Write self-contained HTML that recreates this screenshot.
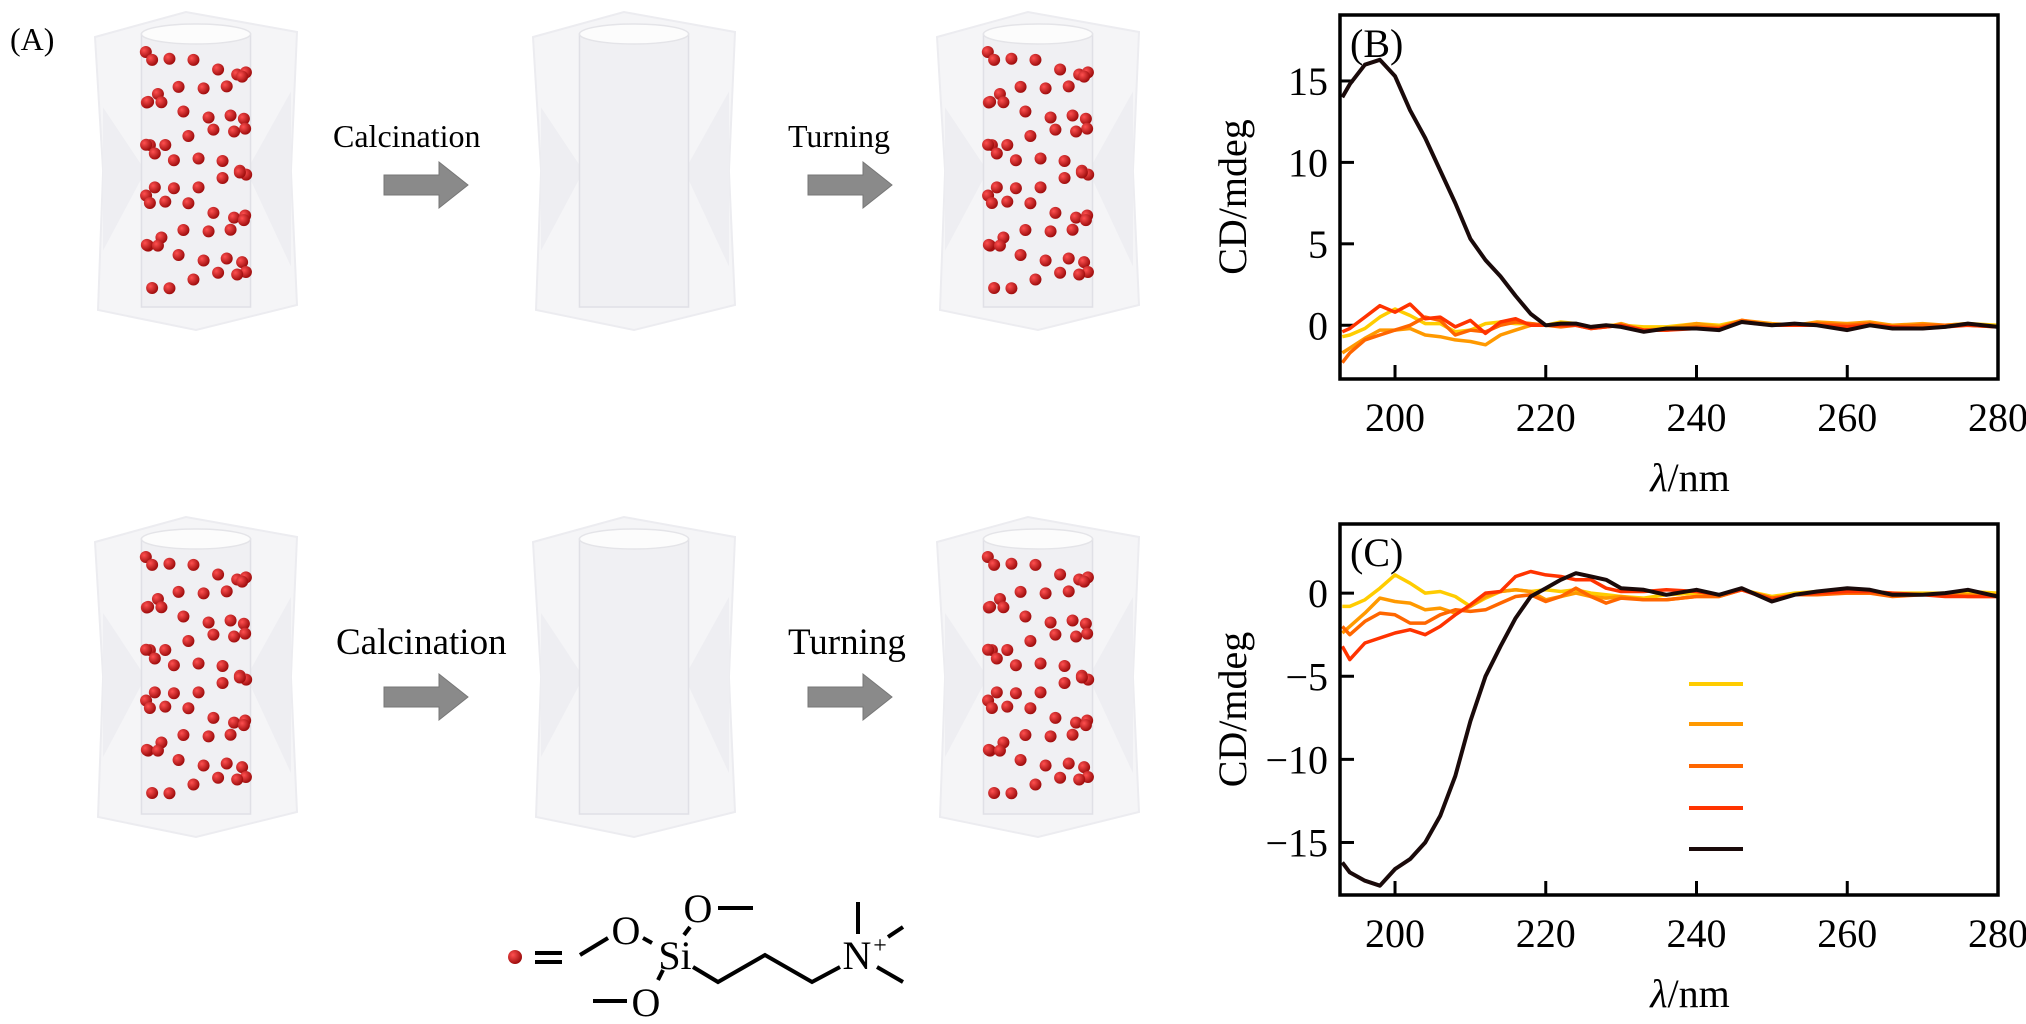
<!DOCTYPE html>
<html><head><meta charset="utf-8"><style>
html,body{margin:0;padding:0;background:#fff;}
#root{position:relative;width:2026px;height:1024px;overflow:hidden;font-family:"Liberation Serif",serif;}
svg{position:absolute;left:0;top:0;}
svg text{font-family:"Liberation Serif",serif;}
</style></head><body>
<div id="root">
<svg id="diag" width="2026" height="1024"></svg>
<svg id="chart" width="2026" height="1024"></svg>
</div>
<script>
const wavelengths=[193,194,196,198,200,202,204,206,208,210,212,214,216,218,220,222,224,226,228,230,233,236,240,243,246,250,253,256,260,263,266,270,273,276,280];
const seriesColors=["#ffcc00","#ff9900","#ff6600","#ff3300","#1a0a0a"];
const bYellow=[-0.7,-0.6,-0.2,0.5,1.0,0.6,0.1,0.1,-0.4,-0.3,0.1,0.2,0.1,0.1,0,0.2,0.1,-0.1,0,0,-0.1,-0.1,0.1,0,0.3,0,0,0,0.1,0.1,0,0,0,0.1,0];
const bOrange=[-1.7,-1.4,-0.8,-0.3,-0.3,-0.2,-0.6,-0.7,-0.9,-1.0,-1.2,-0.6,-0.3,0,0,0,0,-0.1,-0.1,0.1,-0.3,-0.2,0.1,-0.1,0.3,0.1,0,0.2,0.1,0.2,0,0.1,0,0.1,-0.1];
const bRedOrange=[-2.3,-1.7,-0.9,-0.6,-0.3,0,0.5,0.3,-0.6,-0.3,-0.4,0,0.2,0.1,0,-0.1,0,-0.2,-0.1,0,-0.3,-0.3,-0.1,-0.2,0.3,0,0,0.1,0,0.1,-0.1,0,0,0,-0.1];
const bRed=[-0.4,-0.2,0.5,1.2,0.8,1.3,0.4,0.5,-0.1,0.3,-0.5,0.2,0.4,0,0,0,0,-0.2,-0.1,0,-0.3,-0.3,-0.2,-0.2,0.2,0,0,0,-0.1,0,-0.1,-0.2,-0.1,0,-0.1];
const bBlack=[14,14.8,16,16.3,15.3,13.2,11.5,9.5,7.5,5.3,4.0,3.0,1.8,0.7,0,0.1,0.1,-0.1,0,-0.1,-0.4,-0.2,-0.2,-0.3,0.2,0,0.1,0,-0.3,0,-0.2,-0.2,-0.1,0.1,-0.1];
const cYellow=[-0.8,-0.8,-0.4,0.3,1.1,0.6,0,0.1,-0.2,-0.8,-0.3,0.1,0.2,0.1,0.2,0.1,0.2,0,-0.1,-0.2,-0.3,-0.1,0,-0.1,0.2,-0.2,0,0.1,0.1,0.1,0,0,0,0.1,0];
const cOrange=[-2.4,-2,-1.2,-0.3,-0.5,-0.6,-1,-0.9,-1.2,-0.8,-0.2,0.1,0.2,0.1,-0.4,-0.2,0,-0.2,-0.3,-0.2,-0.4,-0.4,-0.2,-0.2,0.2,-0.3,-0.1,0,0,0,-0.1,-0.1,0,-0.1,-0.1];
const cRedOrange=[-2,-2.5,-1.7,-1.2,-1.3,-1.8,-1.8,-1.3,-1,-1.1,-1.0,-0.6,-0.2,-0.1,-0.5,-0.2,0.3,-0.2,-0.6,-0.3,-0.4,-0.4,-0.2,-0.2,0.2,-0.3,-0.1,-0.1,0,0,-0.2,-0.1,-0.1,-0.2,-0.2];
const cRed=[-3.2,-4,-3,-2.7,-2.4,-2.2,-2.5,-2,-1.3,-0.7,0,0.1,1.0,1.3,1.1,1.0,0.8,0.8,0.3,0.1,0.1,0.2,0.1,-0.1,0.2,-0.4,-0.1,0,0.1,0.1,0,-0.1,-0.2,-0.2,-0.2];
const cBlack=[-16.2,-16.8,-17.3,-17.6,-16.6,-16,-15,-13.4,-11,-7.7,-5.0,-3.2,-1.5,-0.2,0.3,0.8,1.2,1.0,0.8,0.3,0.2,-0.1,0.2,-0.1,0.3,-0.5,-0.1,0.1,0.3,0.2,-0.1,-0.1,0,0.2,-0.2];
const xTicks=[200,220,240,260,280];
const bYTicks=[0,5,10,15];
const cYTicks=[0,-5,-10,-15];

const NS="http://www.w3.org/2000/svg";
function mk(parent,tag,attrs){const e=document.createElementNS(NS,tag);for(const k in attrs)e.setAttribute(k,attrs[k]);parent.appendChild(e);return e;}
const chart=document.getElementById('chart');

function drawPanel(label,top,bottom,ymin,ymax,series,yTicks,legend,nm){
  const L=1340,R=1998,xmin=192.7,xmax=280;
  const sx=v=>L+(v-xmin)/(xmax-xmin)*(R-L);
  const sy=v=>bottom-(v-ymin)/(ymax-ymin)*(bottom-top);
  const g=mk(chart,'g',{});
  
  
  xTicks.forEach(t=>{
    const ln=mk(g,'line',{x1:sx(t),x2:sx(t),y1:bottom,y2:bottom-14,stroke:'#000','stroke-width':3});
    
    
    const tx=mk(g,'text',{x:sx(t),y:bottom+52,'text-anchor':'middle','font-size':40});
    tx.textContent=t;
    
    
  });
  yTicks.forEach(t=>{
    const ln=mk(g,'line',{x1:L,x2:L+14,y1:sy(t),y2:sy(t),stroke:'#000','stroke-width':3});
    
    
    const tx=mk(g,'text',{x:L-12,y:sy(t)+14,'text-anchor':'end','font-size':40});
    tx.textContent=t<0?'\u2212'+Math.abs(t):t;
    
    
  });
  const clipId='clip'+label;
  const cp=mk(g,'clipPath',{id:clipId});mk(cp,'rect',{x:L,y:top,width:R-L,height:bottom-top});
  series.forEach((s,i)=>{
    const d=wavelengths.map((w,j)=>(j?'L':'M')+sx(w).toFixed(1)+','+sy(s[j]).toFixed(1)).join(' ');
    const p=mk(g,'path',{d:d,fill:'none',stroke:seriesColors[i],'stroke-width':i==4?4:3.5,'stroke-linejoin':'round','clip-path':'url(#'+clipId+')'});
    
    
  });
  const box=mk(g,'rect',{x:L,y:top,width:R-L,height:bottom-top,fill:'none',stroke:'#000','stroke-width':3.5});
  
  
  const lb=mk(g,'text',{x:L+10,y:top+42,'font-size':40});
  lb.textContent='('+label+')';
  
  
  const yt=mk(g,'text',{x:0,y:0,'font-size':40,'text-anchor':'middle',transform:'translate(1246,'+((top+bottom)/2)+') rotate(-90)'});
  yt.textContent='CD/mdeg';
  
  
  const xt=mk(g,'text',{x:1690,y:bottom+112,'font-size':40,'text-anchor':'middle'});
  xt.innerHTML='<tspan font-style="italic">λ</tspan>/nm';
  
  
  if(legend){
    [684,724,766,808,849].forEach((y,i)=>{
      const ln=mk(g,'line',{x1:1689,x2:1743,y1:y,y2:y,stroke:seriesColors[i],'stroke-width':4});
      
      
    });
  }
}
drawPanel('B',15,379,-3.3,19.05,[bYellow,bOrange,bRedOrange,bRed,bBlack],bYTicks,false,'chart-b');
drawPanel('C',524,895,-18.16,4.16,[cYellow,cOrange,cRedOrange,cRed,cBlack],cYTicks,true,'chart-c');

// schematic
const dg=document.getElementById('diag');
const defs=mk(dg,'defs',{});
const rg=mk(defs,'radialGradient',{id:'ball',cx:'35%',cy:'35%',r:'65%'});
mk(rg,'stop',{offset:'0','stop-color':'#ff5050'});mk(rg,'stop',{offset:'1','stop-color':'#a00e0e'});
function cylinder(x,y,w,h,dots,nm){
  const g=mk(dg,'g',{});
  
  
  mk(g,'polygon',{points:`${x},${y+25} ${x+w*0.45},${y} ${x+w},${y+20} ${x+w*0.97},${y+h*0.5} ${x+w},${y+h-25} ${x+w*0.5},${y+h} ${x+3},${y+h-20} ${x+w*0.04},${y+h*0.5}`,fill:'#f5f5f7',stroke:'#ececf0','stroke-width':2});
  mk(g,'polygon',{points:`${x+w*0.04},${y+h*0.3} ${x+w*0.25},${y+h*0.5} ${x+w*0.04},${y+h*0.75}`,fill:'#eeeef2'});
  mk(g,'polygon',{points:`${x+w*0.97},${y+h*0.25} ${x+w*0.75},${y+h*0.5} ${x+w*0.97},${y+h*0.8}`,fill:'#eeeef2'});
  const cx=x+w/2,R=w*0.27;
  mk(g,'rect',{x:cx-R,y:y+22,width:2*R,height:h-45,fill:'#f0f0f3',stroke:'#e0e0e6','stroke-width':1.5});
  mk(g,'ellipse',{cx:cx,cy:y+22,rx:R,ry:10,fill:'#fcfcfc',stroke:'#e4e4e8','stroke-width':1.5});
  if(dots){
    for(let k=0;k<62;k++){
      const t=k*Math.PI/6.2;
      const dx=cx-R*0.92*Math.cos(t);
      const dy=y+40+48*t/(2*Math.PI)+4*Math.sin(k*1.7);
      if(dy>y+h-28)break;
      mk(g,'circle',{cx:dx,cy:dy,r:6,fill:'url(#ball)'});
    }
  }
}
cylinder(95,12,202,318,true,'silica-with-template-1');
cylinder(533,12,202,318,false,'calcined-silica-1');
cylinder(937,12,202,318,true,'turned-silica-1');
cylinder(95,517,202,320,true,'silica-with-template-2');
cylinder(533,517,202,320,false,'calcined-silica-2');
cylinder(937,517,202,320,true,'turned-silica-2');
function arrow(x,y,nm){
  const p=mk(dg,'polygon',{points:`${x},${y-10} ${x+55},${y-10} ${x+55},${y-23} ${x+84},${y} ${x+55},${y+23} ${x+55},${y+10} ${x},${y+10}`,fill:'#8a8a8a',stroke:'#777','stroke-width':1});
  
  
}
arrow(384,185,'arrow-calcination-1');arrow(808,185,'arrow-turning-1');
arrow(384,697,'arrow-calcination-2');arrow(808,697,'arrow-turning-2');
function txt(x,y,s,fs,nm,anchor){
  const t=mk(dg,'text',{x:x,y:y,'font-size':fs,'text-anchor':anchor||'start'});
  t.textContent=s;
  
  
  return t;
}
txt(10,50,'(A)',32,'panel-label-a');
txt(333,147,'Calcination',32,'calcination-label-1');
txt(788,147,'Turning',32,'turning-label-1');
txt(336,654,'Calcination',37,'calcination-label-2');
txt(788,654,'Turning',37,'turning-label-2');
const ch=mk(dg,'g',{stroke:'#000','stroke-width':4,fill:'none'});


mk(dg,'circle',{cx:515,cy:957,r:7,fill:'url(#ball)'});
[[535,953,562,953],[535,962,562,962],[580,955,608,938],[643,938,652,943],[684,935,690,927],[718,908,753,908],[663,970,658,980],[593,1001,627,1001],[858,902,858,934],[888,937,903,927],[877,967,903,982]].forEach(l=>mk(ch,'line',{x1:l[0],y1:l[1],x2:l[2],y2:l[3]}));
mk(ch,'polyline',{points:'693,967 718,982 765,955 812,982 840,967'});
txt(626,944,'O',40,'oxygen-1','middle');
txt(698,922,'O',40,'oxygen-2','middle');
txt(675,969,'Si',40,'silicon','middle');
txt(646,1016,'O',40,'oxygen-3','middle');
txt(857,969,'N',40,'nitrogen','middle');
txt(880,953,'+',24,'charge','middle');
</script>
</body></html>
